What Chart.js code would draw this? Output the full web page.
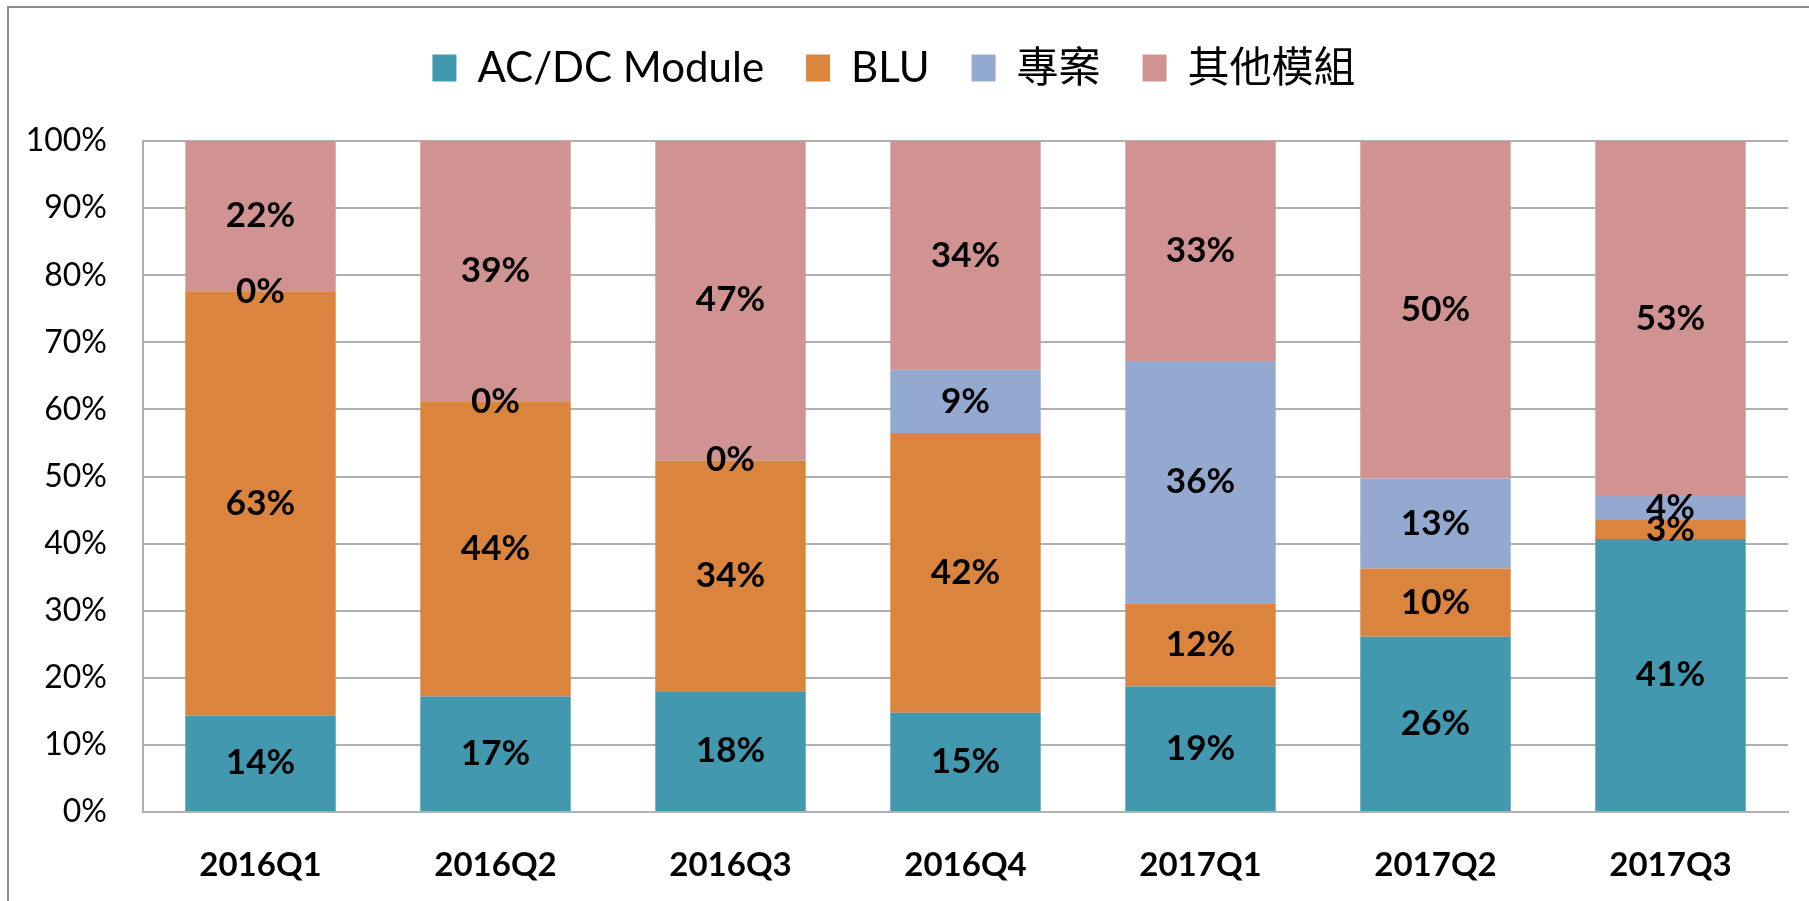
<!DOCTYPE html>
<html>
<head>
<meta charset="utf-8">
<script src="https://cdn.jsdelivr.net/npm/chart.js@4"></script>
<style>
  body { margin: 0; background: #fff; }
  #wrap { width: 1809px; height: 901px; }
</style>
</head>
<body>
<div id="wrap"><canvas id="myChart" width="1809" height="901"></canvas></div>
<script>
const trimestres = ["2016Q1", "2016Q2", "2016Q3", "2016Q4", "2017Q1", "2017Q2", "2017Q3"]
const acdc = [14.4, 17.2, 18.0, 14.8, 18.7, 26.1, 40.7]
const blu = [63.2, 44.0, 34.4, 41.7, 12.4, 10.2, 2.8]
const proyecto = [0, 0, 0.2, 9.4, 36.1, 13.4, 3.6]
const otros = [22.4, 38.8, 47.4, 34.1, 32.8, 50.3, 52.9]
const ticksY = [0, 10, 20, 30, 40, 50, 60, 70, 80, 90, 100]

const fuente = "Lato, 'Noto Sans CJK TC', sans-serif"
const gris = "#b0b0b0"
const ctx = document.getElementById('myChart')

// etiquetas de porcentaje en el centro de cada segmento
const etiquetas = {
  id: 'etiquetas',
  afterDatasetsDraw(chart) {
    const c = chart.ctx
    c.save()
    c.font = "bold 35px " + fuente
    c.fillStyle = "#000"
    c.textAlign = "center"
    c.textBaseline = "middle"
    chart.data.datasets.forEach((ds, i) => {
      chart.getDatasetMeta(i).data.forEach((bar, j) => {
        const y = (bar.y + bar.base) / 2
        c.fillText(Math.round(ds.data[j]) + "%", bar.x, y)
      })
    })
    c.restore()
  }
}

// mas espacio debajo de la leyenda
const espacioLeyenda = {
  id: 'espacioLeyenda',
  beforeLayout(chart) {
    const lg = chart.legend
    if (lg && !lg._parcheado) {
      const fitOrig = lg.fit
      lg.fit = function () {
        fitOrig.call(this)
        this.height += 42
      }
      lg._parcheado = true
    }
  }
}

// marco gris del grafico (solo arriba y a la izquierda)
const marco = {
  id: 'marco',
  beforeDraw(chart) {
    const c = chart.ctx
    c.save()
    c.strokeStyle = "#8c8c8c"
    c.lineWidth = 2
    c.beginPath()
    c.moveTo(8, 901)
    c.lineTo(8, 7)
    c.lineTo(1809, 7)
    c.stroke()
    c.restore()
  }
}

const myChart = new Chart(ctx, {
  type: 'bar',
  data: {
    labels: trimestres,
    datasets: [
      { label: "AC/DC Module", data: acdc, backgroundColor: "#4198AF" },
      { label: "BLU", data: blu, backgroundColor: "#DB843D" },
      { label: "專案", data: proyecto, backgroundColor: "#93A9CF" },
      { label: "其他模組", data: otros, backgroundColor: "#D19392" }
    ]
  },
  options: {
    responsive: false,
    animation: false,
    datasets: { bar: { categoryPercentage: 0.64, barPercentage: 1, borderWidth: 0 } },
    layout: { padding: { top: 5, right: 21, bottom: 0, left: 0 } },
    plugins: {
      tooltip: { enabled: false },
      legend: {
        position: 'top',
        labels: {
          font: { family: fuente, size: 42 },
          color: "#000",
          boxWidth: 24,
          boxHeight: 27,
          padding: 42
        }
      }
    },
    scales: {
      x: {
        stacked: true,
        grid: { display: false },
        border: { display: true, color: gris, width: 2 },
        ticks: { font: { family: fuente, size: 33, weight: 'bold' }, color: "#000", padding: 26 },
        afterFit: (s) => { s.height = 89 }
      },
      y: {
        stacked: true,
        min: 0,
        max: 100,
        afterBuildTicks: (s) => { s.ticks = ticksY.map(v => ({ value: v })) },
        grid: { color: gris, lineWidth: 2, drawTicks: false },
        border: { display: true, color: gris, width: 2 },
        ticks: { font: { family: fuente, size: 32 }, color: "#000", padding: 36, callback: (v) => v + "%" },
        afterFit: (s) => { s.width = 143 }
      }
    }
  },
  plugins: [etiquetas, espacioLeyenda, marco]
})
</script>
</body>
</html>
